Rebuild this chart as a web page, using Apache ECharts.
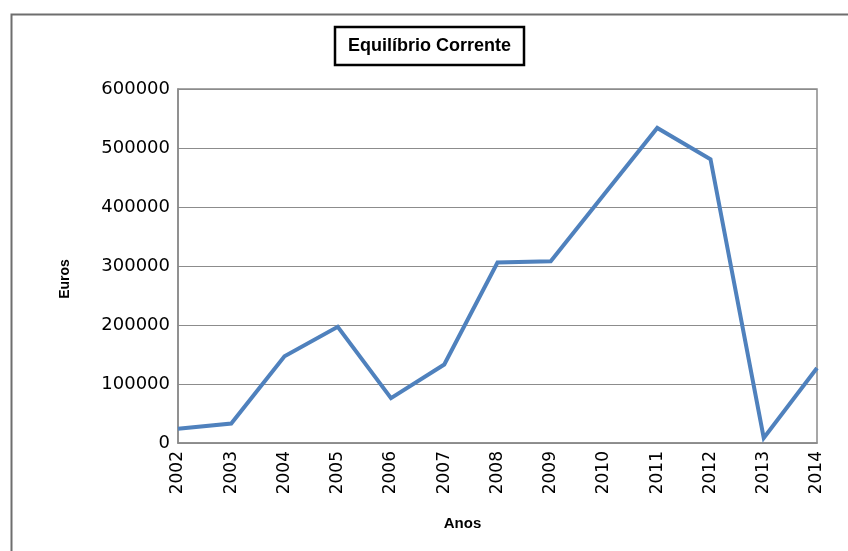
<!DOCTYPE html>
<html>
<head>
<meta charset="utf-8">
<script src="https://cdn.jsdelivr.net/npm/echarts@6/dist/echarts.min.js"></script>
<style>html,body{margin:0;padding:0;background:#fff}#c{width:848px;height:551px}</style>
</head>
<body>
<div id="c"></div>
<script>
const categories = ['2002','2003','2004','2005','2006','2007','2008','2009','2010','2011','2012','2013','2014'];
const values = [24000, 33000, 147000, 197000, 76000, 133000, 306000, 308000, 421000, 534000, 481000, 8500, 127000];
const titleText = 'Equilíbrio Corrente';
const yName = 'Euros';
const xName = 'Anos';

const chart = echarts.init(document.getElementById('c'), null, {renderer: 'canvas'});
chart.setOption({
  animation: false,
  backgroundColor: '#fff',
  grid: {left: 178, right: 31, top: 89, bottom: 108, show: true, borderColor: '#8a8a8a', borderWidth: 1.5, containLabel: false},
  xAxis: {
    type: 'category', data: categories, boundaryGap: false,
    axisLine: {show: true, lineStyle: {color: '#8a8a8a', width: 1.5}},
    axisTick: {show: false},
    axisLabel: {rotate: 90, margin: 8, color: '#000', fontFamily: 'DejaVu Sans', fontSize: 17},
    splitLine: {show: false}
  },
  yAxis: {
    type: 'value', min: 0, max: 600000, interval: 100000,
    axisLine: {show: true, lineStyle: {color: '#8a8a8a', width: 1.5}},
    axisTick: {show: false},
    axisLabel: {margin: 8, color: '#000', fontFamily: 'DejaVu Sans', fontSize: 18, formatter: v => String(v)},
    splitLine: {show: true, lineStyle: {color: '#8c8c8c', width: 1.2}}
  },
  series: [{
    type: 'line', data: values, symbol: 'none',
    lineStyle: {color: '#4f81bd', width: 4, join: 'miter'}
  }],
  graphic: [
    {type: 'rect', left: 9, top: 12, shape: {width: 900, height: 600}, style: {fill: 'none', stroke: '#6e6e6e', lineWidth: 2}, z: -1},
    {type: 'rect', shape: {x: 335, y: 27, width: 189, height: 38}, style: {fill: '#fff', stroke: '#000', lineWidth: 2.5}},
    {type: 'text', x: 429.5, y: 46, style: {text: titleText, fontFamily: 'Liberation Sans', fontWeight: 'bold', fontSize: 18, fill: '#000', textAlign: 'center', textVerticalAlign: 'middle'}},
    {type: 'text', x: 65, y: 279, rotation: Math.PI / 2, style: {text: yName, fontFamily: 'Liberation Sans', fontWeight: 'bold', fontSize: 14, fill: '#000', textAlign: 'center', textVerticalAlign: 'middle'}},
    {type: 'text', x: 462.5, y: 524, style: {text: xName, fontFamily: 'Liberation Sans', fontWeight: 'bold', fontSize: 15, fill: '#000', textAlign: 'center', textVerticalAlign: 'middle'}}
  ]
});
</script>
</body>
</html>
